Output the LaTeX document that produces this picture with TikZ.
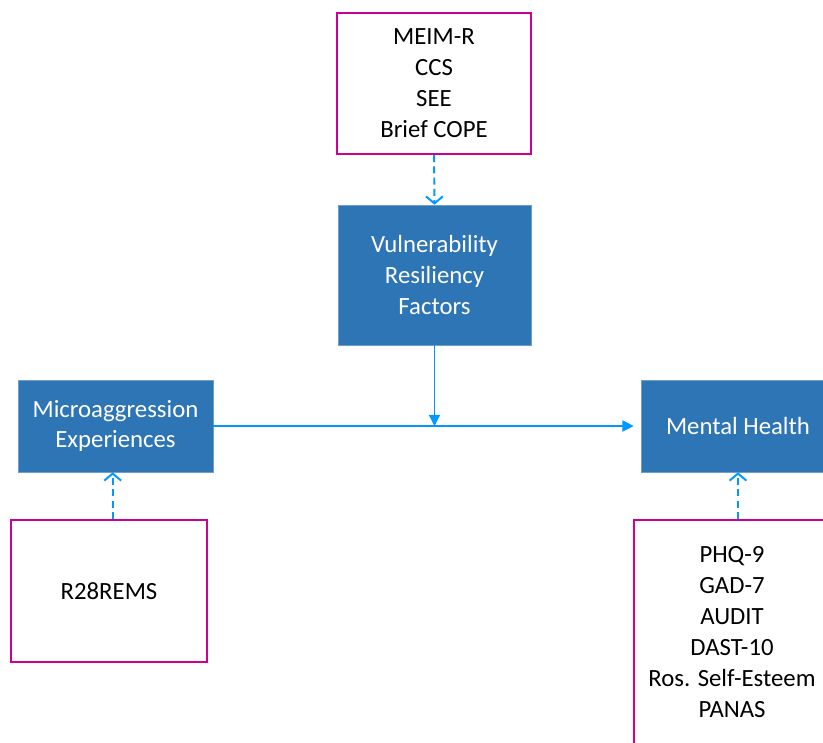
\documentclass[tikz,border=0pt]{standalone}
\usepackage{fontspec}
\setmainfont{Carlito}
\usepackage{tikz}
\usetikzlibrary{arrows.meta, positioning, calc}
\definecolor{factorblue}{RGB}{46,117,182}
\definecolor{measmagenta}{RGB}{204,0,153}
\definecolor{linkblue}{RGB}{0,153,255}

\begin{document}
\begin{tikzpicture}[
        x=0.025cm, y=-0.025cm,
        factor/.style={rectangle, fill=factorblue, draw=factorblue!70!white, thin, text=white, align=center, font=\fontsize{17.6}{22}\selectfont},
        measure/.style={rectangle, draw=measmagenta, line width=1.6pt, fill=white, align=center, font=\fontsize{17.6}{22}\selectfont},
        link/.style={-{Triangle[length=8pt, width=8pt]}, linkblue, line width=0.9pt},
        feed/.style={-{Straight Barb[length=5pt, width=12pt]}, linkblue, line width=1.4pt, dash pattern=on 5pt off 3pt}
    ]
        \clip (0,0) rectangle (823,743);
        \useasboundingbox (0,0) rectangle (823,743);

        % Constructs
        \node[factor, minimum width=4.83cm, minimum height=3.5cm]  (vuln)   at (434.5,275) {Vulnerability\\Resiliency\\Factors};
        \node[factor, minimum width=4.88cm, minimum height=2.3cm]  (micro)  at (115.5,426) {Microaggression\\Experiences};
        \node[factor, minimum width=4.85cm, minimum height=2.3cm]  (mental) at (738,426)   {Mental Health};

        % Measures
        \node[measure, minimum width=4.85cm, minimum height=3.52cm] (vulnmeas)   at (434,83.5) {MEIM-R\\CCS\\SEE\\Brief COPE};
        \node[measure, minimum width=4.9cm, minimum height=3.55cm]  (micromeas)  at (109,591)  {R28REMS};
        \node[measure, minimum width=4.9cm, minimum height=5.6cm]   (mentalmeas) at (732,632)  {PHQ-9\\GAD-7\\AUDIT\\DAST-10\\Ros. Self-Esteem\\PANAS};

        % Paths
        \coordinate (join) at (vuln.south |- micro.east);
        \draw[link] (micro.east) -- ([xshift=-5]mental.west);
        \draw[link] (vuln.south) -- (join);

        \draw[feed] (vulnmeas.south) -- (vuln.north);
        \draw[feed] ([xshift=-2]micro.south |- micromeas.north) -- ([xshift=-2]micro.south);
        \draw[feed] (mental.south |- mentalmeas.north) -- (mental.south);
    \end{tikzpicture}
\end{document}
